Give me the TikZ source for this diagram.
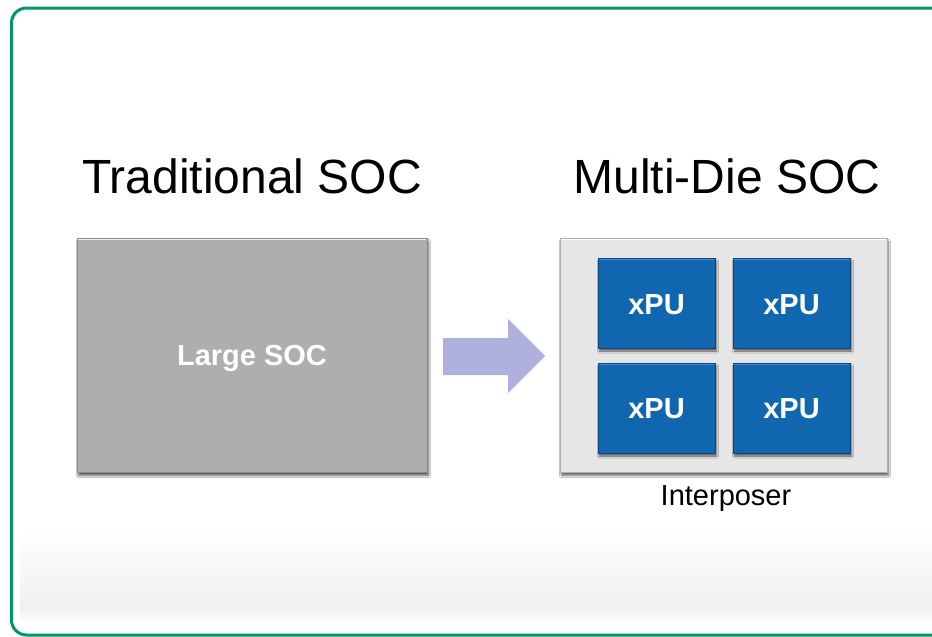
\documentclass[tikz,border=0pt]{standalone}
\usepackage{fontspec}
\setmainfont{Liberation Sans}
\usetikzlibrary{shadows.blur,fadings}

\definecolor{frame}{RGB}{0,152,102}
\definecolor{socgray}{RGB}{174,174,174}
\definecolor{socedge}{RGB}{140,140,140}
\definecolor{interfill}{RGB}{230,230,230}
\definecolor{interedge}{RGB}{175,175,175}
\definecolor{xpublue}{RGB}{17,102,176}
\definecolor{xpuedge}{RGB}{10,70,128}
\definecolor{xpulight}{RGB}{70,140,205}
\definecolor{arrowfill}{RGB}{174,177,222}

\tikzset{
  chip/.style={draw=socedge, line width=0.8pt, fill=socgray,
    blur shadow={shadow xshift=1.5pt, shadow yshift=-3.5pt, shadow blur steps=6, shadow opacity=65}},
  interposer/.style={draw=interedge, line width=0.8pt, fill=interfill,
    blur shadow={shadow xshift=1.5pt, shadow yshift=-3.5pt, shadow blur steps=6, shadow opacity=60}},
  die/.style={draw=xpuedge, line width=0.8pt, fill=xpublue,
    blur shadow={shadow xshift=1.5pt, shadow yshift=-3pt, shadow blur steps=5, shadow opacity=60}},
  bevel/.style={line width=1.2pt, line cap=butt},
  title/.style={font=\fontsize{48}{56}\selectfont, anchor=base, inner sep=0pt},
  boxlabel/.style={font=\fontsize{29}{33}\selectfont\bfseries, text=white, anchor=base, inner sep=0pt},
  caption/.style={font=\fontsize{29}{33}\selectfont, anchor=base, inner sep=0pt}
}

\begin{document}
\begin{tikzpicture}[x=1pt, y=-1pt]
  \useasboundingbox (0,0) rectangle (932,637);
  \fill[white] (0,0) rectangle (932,637);

  % soft grey floor band
  \shade[top color=white, bottom color=black!6] (20,530) rectangle (932,608);
  \shade[top color=black!6, bottom color=white] (20,608) rectangle (932,622);

  % outer frame
  \begin{scope}
    \clip (0,0) rectangle (932,637);
    \draw[frame, line width=3pt, rounded corners=15pt] (11.5,8) rectangle (960,635);
  \end{scope}

  % titles
  \node[title] (tradtitle) at (252,193) {Traditional SOC};
  \node[title] (multititle) at (727,193) {Multi-Die SOC};

  % monolithic die
  \path[chip] (77,238) rectangle (427,472);
  \draw[bevel, white!80!socgray] (78,239.5) -- (426,239.5);
  \node[boxlabel] (soclabel) at (252,365) {Large SOC};

  % transition arrow
  \fill[arrowfill] (443,338) -- (508,338) -- (508,319) -- (545,356)
    -- (508,393) -- (508,375) -- (443,375) -- cycle;

  % interposer with four dies
  \path[interposer] (560,238) rectangle (887,472);
  \draw[bevel, white] (561,239.5) -- (886,239.5);
  \foreach \x/\y in {598/258, 733/258, 598/363, 733/363} {
    \path[die] (\x,\y) rectangle ++(117,90);
    \draw[bevel, xpulight] (\x+1,\y+1.5) -- ++(115,0);
  }
  \node[boxlabel] (xpua) at (656.5,314) {xPU};
  \node[boxlabel] (xpub) at (791.5,314) {xPU};
  \node[boxlabel] (xpuc) at (656.5,418) {xPU};
  \node[boxlabel] (xpud) at (791.5,418) {xPU};

  \node[caption] (interlabel) at (726,505) {Interposer};
\end{tikzpicture}
\end{document}
